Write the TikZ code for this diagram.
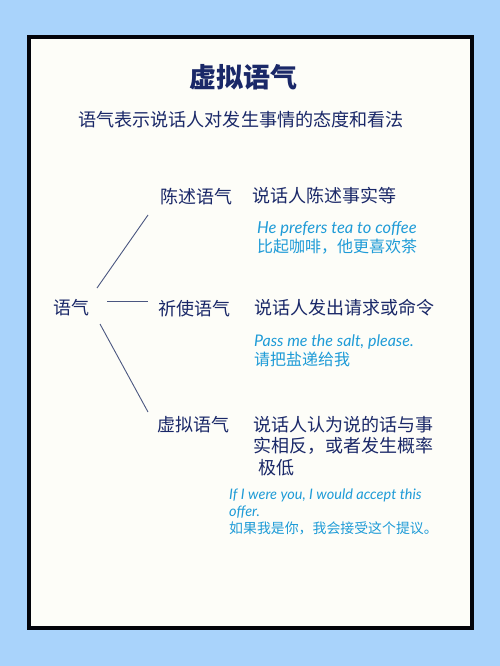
\documentclass[tikz,border=0pt]{standalone}
\usepackage{fontspec}
\setmainfont{Noto Sans CJK SC}
\newfontfamily\enfont{Lato}
\definecolor{pagebg}{HTML}{A9D3FB}
\definecolor{cardbg}{HTML}{FDFDF8}
\definecolor{ink}{HTML}{1A2868}
\definecolor{sky}{HTML}{1E9BD7}
\definecolor{branchline}{HTML}{4A5680}

\begin{document}
\begin{tikzpicture}[x=1pt,y=-1pt,inner sep=0pt,
  kind/.style={text=ink,anchor=west,font=\fontsize{18}{21}\selectfont},
  meaning/.style={text=ink,anchor=north west,align=left,font=\fontsize{18}{21.5}\selectfont},
  example/.style={text=sky,anchor=north west,align=left},
  branch/.style={draw=branchline,line width=0.9pt}]
  % page and card
  \fill[pagebg] (0,0) rectangle (500,666);
  \draw[fill=cardbg,draw=black!90!ink,line width=3.5pt] (29,37) rectangle (472,628);

  \node[text=ink,font=\fontsize{27}{30}\selectfont\bfseries] (title) at (243,77) {虚拟语气};
  \node[text=ink,font=\fontsize{18.1}{22}\selectfont] (subtitle) at (241,120) {语气表示说话人对发生事情的态度和看法};

  \node[kind] (root) at (53,308) {语气};

  \node[kind] (decl) at (160,197) {陈述语气};
  \node[meaning] (decl-m) at (252,187) {说话人陈述事实等};
  \node[example,font=\fontsize{16}{19}\selectfont] (decl-e) at (257,221) {{\enfont\itshape\fontsize{16.5}{19}\selectfont He prefers tea to coffee}\\[0pt]
    {\fontsize{16}{19}\selectfont 比起咖啡，他更喜欢茶}};

  \node[kind] (imp) at (158,309) {祈使语气};
  \node[meaning] (imp-m) at (254,299) {说话人发出请求或命令};
  \node[example,font=\fontsize{16}{19}\selectfont] (imp-e) at (254,335) {{\enfont\itshape\fontsize{16}{19}\selectfont Pass me the salt, please.}\\[0pt]
    {\fontsize{16}{19}\selectfont 请把盐递给我}};

  \node[kind] (subj) at (157,425) {虚拟语气};
  \node[meaning] (subj-m) at (253,416) {说话人认为说的话与事\\实相反，或者发生概率\\\hspace{5pt}极低};
  \node[example,font=\fontsize{14}{16.8}\selectfont] (subj-e) at (229,489) {{\enfont\itshape\fontsize{14.5}{16.8}\selectfont If I were you, I would accept this}\\
    {\enfont\itshape\fontsize{14.5}{16.8}\selectfont offer.}\\
    {\fontsize{13.9}{16.8}\selectfont 如果我是你，我会接受这个提议。}};

  % branch ends
  \coordinate (root-up) at (97,288);
  \coordinate (root-mid) at (107,301);
  \coordinate (root-low) at (100,324);
  \coordinate (decl-in) at (148,215);
  \coordinate (imp-in) at (148,301);
  \coordinate (subj-in) at (148,412);
  \draw[branch] (root-up) -- (decl-in);
  \draw[branch] (root-mid) -- (imp-in);
  \draw[branch] (root-low) -- (subj-in);
\end{tikzpicture}
\end{document}
